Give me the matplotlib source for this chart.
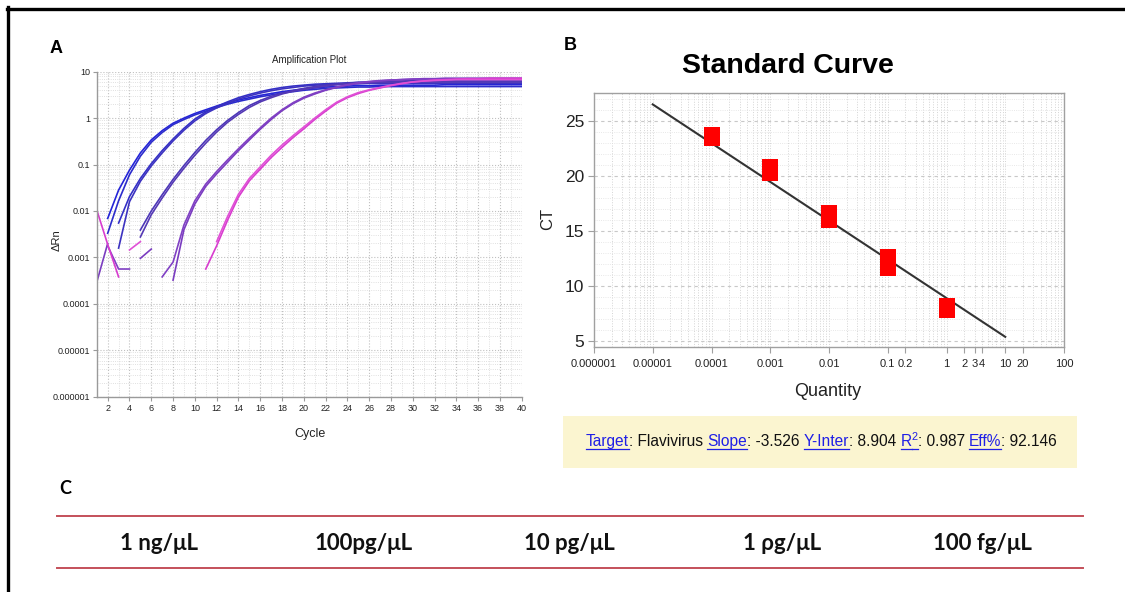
import numpy as np
import matplotlib
matplotlib.use("Agg")
import matplotlib.pyplot as plt
from matplotlib.lines import Line2D
from matplotlib.patches import Rectangle
from matplotlib import font_manager as fm
from matplotlib.ticker import FixedLocator, NullFormatter

# ---------------- data ----------------
cycles = list(range(1, 41))
nan = float("nan")
# log10(delta Rn) per cycle 1..40 (nan = not shown on log scale)
g1a_log = [nan, -2.16, -1.55, -1.12, -0.75, -0.47, -0.27, -0.11, 0.00, 0.10,
           0.18, 0.26, 0.33, 0.39, 0.44, 0.49, 0.53, 0.57, 0.60, 0.63,
           0.65, 0.67, 0.68, 0.69, 0.70, 0.70, 0.71, 0.71, 0.71, 0.71,
           0.71, 0.71, 0.72, 0.72, 0.72, 0.72, 0.72, 0.72, 0.72, 0.72]
g1b_log = [nan, -2.48, -1.78, -1.22, -0.82, -0.52, -0.31, -0.14, -0.03, 0.07,
           0.15, 0.23, 0.30, 0.36, 0.41, 0.46, 0.50, 0.54, 0.57, 0.60,
           0.62, 0.64, 0.65, 0.66, 0.67, 0.67, 0.68, 0.68, 0.68, 0.68,
           0.68, 0.68, 0.68, 0.68, 0.68, 0.68, 0.68, 0.68, 0.68, 0.68]
g2a_log = [nan, nan, -2.26, -1.69, -1.30, -0.98, -0.70, -0.45, -0.22, -0.02,
           0.13, 0.25, 0.35, 0.44, 0.51, 0.57, 0.62, 0.66, 0.69, 0.71,
           0.73, 0.74, 0.75, 0.76, 0.77, 0.77, 0.78, 0.78, 0.78, 0.78,
           0.78, 0.78, 0.78, 0.78, 0.78, 0.78, 0.78, 0.78, 0.78, 0.78]
g2b_log = [nan, nan, -2.80, -1.80, -1.36, -1.03, -0.75, -0.49, -0.26, -0.06,
           0.10, 0.22, 0.32, 0.41, 0.48, 0.54, 0.59, 0.63, 0.66, 0.69,
           0.71, 0.72, 0.73, 0.74, 0.74, 0.75, 0.75, 0.75, 0.75, 0.75,
           0.75, 0.75, 0.75, 0.75, 0.75, 0.75, 0.75, 0.75, 0.75, 0.75]
g3a_log = [nan, nan, nan, nan, -2.41, -2.00, -1.65, -1.32, -1.02, -0.74,
           -0.48, -0.25, -0.05, 0.12, 0.27, 0.38, 0.47, 0.54, 0.59, 0.64,
           0.68, 0.71, 0.73, 0.75, 0.77, 0.78, 0.79, 0.80, 0.80, 0.81,
           0.81, 0.81, 0.82, 0.82, 0.82, 0.82, 0.82, 0.82, 0.82, 0.82]
g3b_log = [nan, nan, nan, nan, -2.56, -2.08, -1.72, -1.38, -1.08, -0.80,
           -0.54, -0.30, -0.09, 0.08, 0.23, 0.35, 0.44, 0.52, 0.58, 0.62,
           0.66, 0.69, 0.72, 0.74, 0.75, 0.76, 0.77, 0.77, 0.78, 0.78,
           0.78, 0.78, 0.78, 0.78, 0.78, 0.78, 0.78, 0.78, 0.78, 0.78]
g4a_log = [-3.53, -2.70, nan, nan, -3.02, -2.82, nan, -3.49, -2.40, -1.85,
           -1.47, -1.20, -0.95, -0.70, -0.47, -0.24, -0.03, 0.16, 0.31, 0.43,
           0.52, 0.60, 0.66, 0.71, 0.75, 0.78, 0.80, 0.82, 0.83, 0.84,
           0.85, 0.85, 0.86, 0.86, 0.86, 0.86, 0.86, 0.86, 0.86, 0.86]
g4b_log = [nan, -2.75, -3.25, -3.25, nan, nan, -3.42, -3.10, -2.30, -1.78,
           -1.42, -1.15, -0.90, -0.66, -0.43, -0.21, 0.00, 0.18, 0.33, 0.45,
           0.54, 0.61, 0.67, 0.72, 0.76, 0.79, 0.81, 0.82, 0.83, 0.84,
           0.84, 0.84, 0.84, 0.84, 0.84, 0.84, 0.84, 0.84, 0.84, 0.84]
g5a_log = [-1.98, -2.72, -3.42, nan, nan, nan, nan, nan, nan, nan,
           -3.25, -2.75, -2.20, -1.70, -1.35, -1.10, -0.85, -0.63, -0.42, -0.23,
           -0.03, 0.15, 0.32, 0.44, 0.53, 0.60, 0.65, 0.70, 0.74, 0.78,
           0.80, 0.82, 0.83, 0.84, 0.85, 0.85, 0.86, 0.86, 0.86, 0.86]
g5b_log = [nan, nan, nan, -2.84, -2.66, nan, nan, nan, nan, nan,
           nan, -2.66, -2.12, -1.64, -1.30, -1.05, -0.80, -0.58, -0.38, -0.19,
           0.00, 0.18, 0.34, 0.46, 0.55, 0.61, 0.66, 0.71, 0.75, 0.78,
           0.80, 0.81, 0.82, 0.83, 0.83, 0.83, 0.83, 0.83, 0.83, 0.83]

amp_curves = [g1a_log, g1b_log, g2a_log, g2b_log, g3a_log, g3b_log,
              g4a_log, g4b_log, g5a_log, g5b_log]
amp_colors = ["#2424d8", "#2c2ccc", "#3430c6", "#3c32c0", "#4c36b8", "#5438b4",
              "#7a3cc0", "#8040c4", "#d83ccf", "#e050d6"]

amp_yticks = [1e-6, 1e-5, 1e-4, 1e-3, 1e-2, 1e-1, 1, 10]
amp_ylabels = ["0.000001", "0.00001", "0.0001", "0.001", "0.01", "0.1", "1", "10"]
amp_xticks = list(range(2, 41, 2))

# standard curve
quantity = [0.0001, 0.0001, 0.001, 0.001, 0.01, 0.01, 0.1, 0.1, 1, 1]
ct_values = [23.52, 23.76, 20.28, 20.82, 16.05, 16.65, 11.64, 12.64, 7.85, 8.15]
slope = -3.526
y_inter = 8.904
r2 = 0.987
eff = 92.146
fit_range = [0.00001, 10]
std_xticks = [1e-6, 1e-5, 1e-4, 1e-3, 0.01, 0.1, 0.2, 1, 2, 3, 4, 10, 20, 100]
std_xlabels = ["0.000001", "0.00001", "0.0001", "0.001", "0.01", "0.1", "0.2",
               "1", "2", "3", "4", "10", "20", "100"]
std_yticks = [5, 10, 15, 20, 25]

# panel C
dilutions = ["1 ng/\u03bcL", "100pg/\u03bcL", "10 pg/\u03bcL", "1 \u03c1g/\u03bcL", "100 fg/\u03bcL"]

# ---------------- figure ----------------
W, H = 1125, 592
fig = plt.figure(figsize=(W / 100, H / 100), dpi=100)
fig.patch.set_facecolor("white")

names = {f.name for f in fm.fontManager.ttflist}
narrow = "Liberation Sans Narrow" if "Liberation Sans Narrow" in names else "Liberation Sans"
arial = "Liberation Sans"
cfont = "Lato" if "Lato" in names else "DejaVu Sans"


def fx(px):
    return px / W


def fy(py):
    return 1 - py / H


# figure border (top and left)
fig.add_artist(Line2D([fx(7), 1.0], [fy(8.5), fy(8.5)], color="black", lw=2.4))
fig.add_artist(Line2D([fx(8.2), fx(8.2)], [fy(7.3), 0.0], color="black", lw=2.4))

# ---------------- panel A ----------------
axA = fig.add_axes([fx(96.8), fy(396.7), fx(521.7) - fx(96.8), fy(71.7) - fy(396.7)])
for vals, col in zip(amp_curves, amp_colors):
    axA.plot(cycles, np.power(10.0, np.array(vals)), color=col, lw=1.2)
axA.set_yscale("log")
axA.set_xlim(1, 40)
axA.set_ylim(1e-6, 10)
axA.yaxis.set_major_locator(FixedLocator(amp_yticks))
axA.set_yticklabels(amp_ylabels)
axA.yaxis.set_minor_locator(FixedLocator(
    [m * 10.0 ** e for e in range(-6, 1) for m in range(2, 10)]))
axA.yaxis.set_minor_formatter(NullFormatter())
axA.set_xticks(amp_xticks)
axA.set_xticks(cycles, minor=True)
axA.grid(True, which="major", color="#c0c0c0", ls=":", lw=0.8)
axA.grid(True, which="minor", color="#d6d6d6", ls=":", lw=0.6)
for s in ["top", "right"]:
    axA.spines[s].set_visible(False)
for s in ["left", "bottom"]:
    axA.spines[s].set_color("#9a9a9a")
    axA.spines[s].set_linewidth(1.0)
axA.tick_params(which="major", length=3, width=0.8, color="#9a9a9a",
                labelsize=6.5, pad=2, labelcolor="#222222")
axA.tick_params(which="minor", length=0)
for lab in axA.get_xticklabels() + axA.get_yticklabels():
    lab.set_family(narrow)
axA.set_title("Amplification Plot", fontsize=7, family=narrow, pad=6, color="#222222")
fig.text(fx(310), fy(434), "Cycle", fontsize=9, family=narrow, ha="center", va="center",
         color="#222222")
fig.text(fx(57), fy(240), "\u0394Rn", fontsize=8, family=narrow, ha="center", va="center",
         rotation=90, color="#222222")
fig.text(fx(56), fy(48.5), "A", fontsize=13, fontweight="bold", family=arial,
         ha="center", va="center")

# ---------------- panel B ----------------
axB = fig.add_axes([fx(594), fy(346.7), fx(1064) - fx(594), fy(92.7) - fy(346.7)])
axB.set_xscale("log")
axB.set_xlim(1e-6, 100)
axB.set_ylim(4.48, 27.6)
fit_x = np.array(fit_range)
axB.plot(fit_x, slope * np.log10(fit_x) + y_inter, color="#333333", lw=1.5, zorder=3)
axB.plot(quantity, ct_values, ls="none", marker="s", ms=11, color="#ff0000",
         markeredgewidth=0, zorder=4)
axB.xaxis.set_major_locator(FixedLocator(std_xticks))
axB.set_xticklabels(std_xlabels)
axB.xaxis.set_minor_locator(FixedLocator(
    [m * 10.0 ** e for e in range(-6, 2) for m in range(2, 10)]))
axB.xaxis.set_minor_formatter(NullFormatter())
axB.set_yticks(std_yticks)
axB.set_yticks(range(5, 28), minor=True)
axB.grid(True, which="major", axis="y", color="#c8c8c8", ls=(0, (3, 3)), lw=0.8)
axB.grid(True, which="minor", axis="y", color="#e0e0e0", ls=":", lw=0.6)
axB.grid(True, which="both", axis="x", color="#d4d4d4", ls=":", lw=0.7)
for s in axB.spines.values():
    s.set_color("#a0a0a0")
    s.set_linewidth(1.0)
axB.tick_params(axis="x", which="major", length=4, width=0.8, color="#a0a0a0",
                labelsize=8, pad=5, labelcolor="#222222")
axB.tick_params(axis="y", which="major", length=4, width=0.8, color="#a0a0a0",
                labelsize=12.5, pad=3, labelcolor="#222222")
axB.tick_params(which="minor", length=0)
for lab in axB.get_xticklabels():
    lab.set_family(narrow)
for lab in axB.get_yticklabels():
    lab.set_family(arial)
fig.text(fx(788), fy(66), "Standard Curve", fontsize=20.5, fontweight="bold", family=arial,
         ha="center", va="center")
fig.text(fx(828), fy(391), "Quantity", fontsize=13, family=arial, ha="center", va="center",
         color="#222222")
fig.text(fx(548), fy(219), "CT", fontsize=12, family=arial, ha="center", va="center",
         rotation=90, color="#222222")
fig.text(fx(570), fy(45), "B", fontsize=13, fontweight="bold", family=arial,
         ha="center", va="center")

# info box
fig.add_artist(Rectangle((fx(563), fy(468)), fx(1077) - fx(563), fy(416) - fy(468),
                         transform=fig.transFigure, facecolor="#fbf5d0", edgecolor="none"))
blue = "#1f1fe6"
segs = [("Target", blue, True, False), (": Flavivirus ", "#111111", False, False),
        ("Slope", blue, True, False), (": %.3f " % slope, "#111111", False, False),
        ("Y-Inter", blue, True, False), (": %.3f " % y_inter, "#111111", False, False),
        ("R", blue, True, False), ("2", blue, True, True),
        (": %.3f " % r2, "#111111", False, False),
        ("Eff%", blue, True, False), (": %.3f" % eff, "#111111", False, False)]
fs_info = 11.2
fig.canvas.draw()
rend = fig.canvas.get_renderer()
base_y = fy(446)
widths = []
for txt, col, ul, sup in segs:
    t = fig.text(0, base_y, txt, fontsize=fs_info * (0.7 if sup else 1), family=arial,
                 va="baseline")
    w, h, d = rend.get_text_width_height_descent(txt, t.get_fontproperties(), ismath=False)
    widths.append(w)
    t.remove()
total = sum(widths)
x0 = 821.5 - total / 2
for (txt, col, ul, sup), w in zip(segs, widths):
    yy = base_y + (fy(440) - fy(446) if sup else 0)
    fig.text(fx(x0), yy, txt, fontsize=fs_info * (0.7 if sup else 1), family=arial,
             va="baseline", ha="left", color=col)
    if ul:
        fig.add_artist(Line2D([fx(x0), fx(x0 + w)], [fy(448.5), fy(448.5)], color=col, lw=0.9))
    x0 += w

# ---------------- panel C ----------------
fig.text(fx(65), fy(488), "C", fontsize=13, fontweight="bold", family=cfont,
         ha="center", va="center")
for yline in [516, 567.5]:
    fig.add_artist(Line2D([fx(57), fx(1083)], [fy(yline), fy(yline)], color="#c4505a", lw=1.4))
c_centers = [159, 364, 569, 782, 982]
for cx, lab in zip(c_centers, dilutions):
    fig.text(fx(cx), fy(544), lab, fontsize=16, fontweight="bold", family=cfont,
             ha="center", va="center", color="#111111")

fig.savefig("out.png", dpi=100, facecolor="white")
